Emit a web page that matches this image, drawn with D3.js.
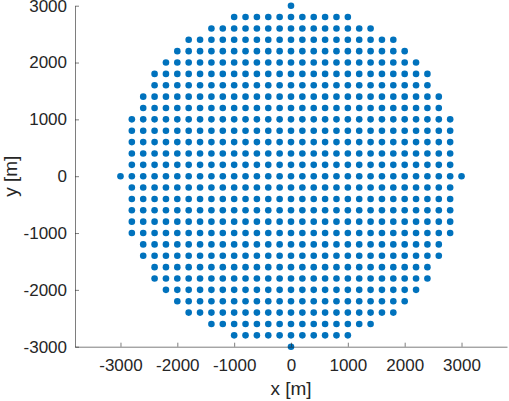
<!DOCTYPE html>
<html>
<head>
<meta charset="utf-8">
<style>
  html, body { margin: 0; padding: 0; background: #fff; }
  svg text { font-family: "Liberation Sans", Arial, sans-serif; fill: #262626; }
</style>
</head>
<body>
<svg width="509" height="401"></svg>
<script src="https://cdn.jsdelivr.net/npm/d3@7/dist/d3.min.js"></script>
<script>
// grid rows (y in metres) and the half-width of each row
const rowY = [3000, 2800, 2600, 2400, 2200, 2000, 1800, 1600, 1400, 1200, 1000, 800, 600, 400, 200, 0,
              -200, -400, -600, -800, -1000, -1200, -1400, -1600, -1800, -2000, -2200, -2400, -2600, -2800, -3000];
const rowHalfWidth = [0, 1000, 1400, 1800, 2000, 2200, 2400, 2400, 2600, 2600, 2800, 2800, 2800, 2800, 2800, 3000,
                      2800, 2800, 2800, 2800, 2800, 2600, 2600, 2400, 2400, 2200, 2000, 1800, 1400, 1000, 0];
const gridStep = 200;
const xTicks = [-3000, -2000, -1000, 0, 1000, 2000, 3000];
const yTicks = [-3000, -2000, -1000, 0, 1000, 2000, 3000];
const xLabel = "x [m]";
const yLabel = "y [m]";

// expand the rows into points
const points = [];
rowY.forEach((y, i) => {
    const w = rowHalfWidth[i];
    for (let x = -w; x <= w; x += gridStep) points.push({x, y});
});

const svg = d3.select("svg");
const margin = {left: 75, right: 2, top: 5.7, bottom: 54.3};
const width = 509 - margin.left - margin.right;
const height = 401 - margin.top - margin.bottom;

const x = d3.scaleLinear().domain([-3800, 3800]).range([0, width]);
const y = d3.scaleLinear().domain([-3000, 3000]).range([height, 0]);

const g = svg.append("g").attr("transform", `translate(${margin.left},${margin.top})`);

g.selectAll("circle")
    .data(points)
    .enter()
    .append("circle")
    .attr("cx", d => x(d.x))
    .attr("cy", d => y(d.y))
    .attr("r", 3.3)
    .attr("fill", "#0072BD");

const xAxis = g.append("g")
    .attr("transform", `translate(0,${height})`)
    .call(d3.axisBottom(x).tickValues(xTicks).tickSizeInner(-4).tickSizeOuter(0).tickPadding(12.5).tickFormat(d3.format("d")));
const yAxis = g.append("g")
    .call(d3.axisLeft(y).tickValues(yTicks).tickSizeInner(-4).tickSizeOuter(0).tickPadding(8).tickFormat(d3.format("d")));

[xAxis, yAxis].forEach(a => {
    a.select(".domain").attr("stroke", "#262626").attr("stroke-width", 0.6);
    a.selectAll(".tick line").attr("stroke", "#262626").attr("stroke-width", 0.6);
    a.selectAll(".tick text").attr("font-size", 17).attr("fill", "#262626")
        .attr("font-family", "Liberation Sans, Arial, sans-serif");
});
// MATLAB uses a hyphen-minus style sign
svg.selectAll(".tick text").text(d => String(d));

svg.append("text")
    .attr("x", margin.left + x(0))
    .attr("y", 395)
    .attr("text-anchor", "middle")
    .attr("font-size", 19)
    .text(xLabel);

svg.append("text")
    .attr("transform", `translate(17,${margin.top + y(0)}) rotate(-90)`)
    .attr("text-anchor", "middle")
    .attr("font-size", 19)
    .text(yLabel);
</script>
</body>
</html>
